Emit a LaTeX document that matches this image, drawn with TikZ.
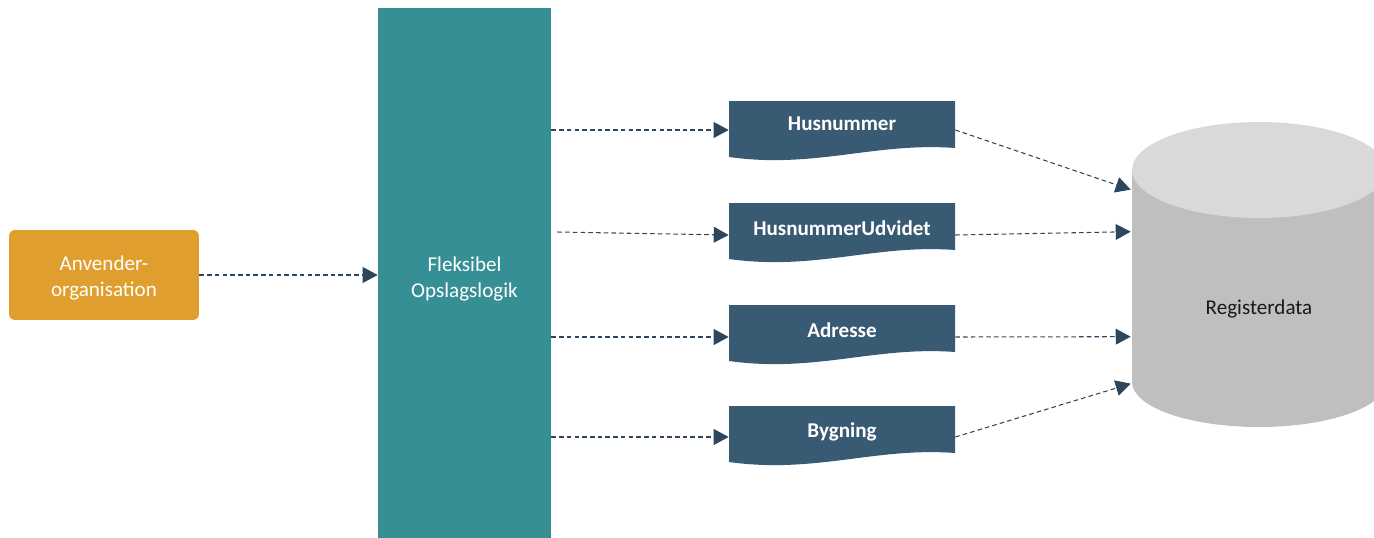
\documentclass[tikz,border=0pt]{standalone}
\usepackage{fontspec}
\setmainfont{Carlito}
\usetikzlibrary{arrows.meta,calc}
\definecolor{orgorange}{RGB}{224,158,47}
\definecolor{tealbox}{RGB}{55,143,150}
\definecolor{docblue}{RGB}{57,90,115}
\definecolor{arrowc}{RGB}{45,70,92}
\definecolor{cyltop}{RGB}{217,217,217}
\definecolor{cylbody}{RGB}{191,191,191}
\newcommand\docshape[1]{\fill[docblue] (729,#1) -- (955,#1) -- (955,#1+47) .. controls (875,#1+41) and (815,#1+68) .. (729,#1+56) -- cycle;}
\begin{document}
\begin{tikzpicture}[x=0.02cm,y=-0.02cm,
  conn/.style={draw=arrowc, line width=0.6pt, dash pattern=on 2.6pt off 1.8pt, -{Triangle[length=8.5pt,width=9pt]}},
  doctext/.style={text=white, font=\fontsize{12}{14.7}\selectfont\bfseries, minimum width=4.52cm, inner sep=0pt, text height=0.4cm, text depth=0.4cm},
  plain/.style={text=white, font=\fontsize{12}{14.7}\selectfont, align=center, inner sep=0pt}]
\useasboundingbox (0,0) rectangle (1374,538);
\clip (0,0) rectangle (1374,538);
% left box
\node[fill=orgorange, rounded corners=0.12cm, minimum width=3.8cm, minimum height=1.8cm, inner sep=0pt] (org) at (104,275) {};
\node[plain] (orgtext) at (104,278) {Anvender-\\organisation};
% teal block
\node[fill=tealbox, minimum width=3.46cm, minimum height=10.6cm, inner sep=0pt] (logic) at (464.5,273) {};
\node[plain] (logictext) at (464.5,279) {Fleksibel\\Opslagslogik};
% documents
\docshape{101}
\docshape{203}
\docshape{305}
\docshape{406}
\node[doctext] (h1) at (842,130) {Husnummer};
\node[doctext] (h2) at (842,235) {HusnummerUdvidet};
\node[doctext] (h3) at (842,337) {Adresse};
\node[doctext] (h4) at (842,437) {Bygning};
% cylinder
\node[fill=cylbody, minimum width=5.08cm, minimum height=4.26cm, inner sep=0pt] (cyl) at (1259,276.5) {};
\fill[cylbody] (1132,382) arc[start angle=180, end angle=360, x radius=2.54cm, y radius=0.9cm] -- cycle;
\fill[cyltop] (1259,170) ellipse[x radius=2.54cm, y radius=0.96cm];
\node[font=\fontsize{12}{14.7}\selectfont, text=black!90, inner sep=0pt] (reg) at (1259,309) {Registerdata};
% connectors
\draw[conn] (org.east) -- (logic.west |- org.east);
\draw[conn] (logic.east |- h1.west) -- (h1.west);
\draw[conn] ($(logic.east |- h2.west)+(6,-3)$) -- (h2.west);
\draw[conn] (logic.east |- h3.west) -- (h3.west);
\draw[conn] (logic.east |- h4.west) -- (h4.west);
\draw[conn] (h1.east) -- ($(cyl.north west)+(-1,20)$);
\draw[conn] (h2.east) -- ($(cyl.north west)+(-1,62)$);
\draw[conn] (h3.east) -- ($(cyl.north west)+(-1,167)$);
\draw[conn] (h4.east) -- ($(cyl.north west)+(-1,214)$);
\end{tikzpicture}
\end{document}
